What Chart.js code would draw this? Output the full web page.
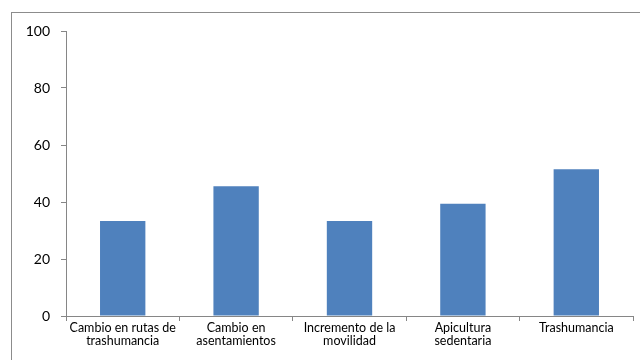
<!DOCTYPE html>
<html>
<head>
<meta charset="utf-8">
<script src="https://cdn.jsdelivr.net/npm/chart.js@4"></script>
<style>
  html, body { margin: 0; padding: 0; background: #fff; width: 640px; height: 360px; overflow: hidden; }
  #frame { position: absolute; left: 11px; top: 12px; width: 640px; height: 400px; border: 1px solid #8c8c8c; }
  #wrap { position: absolute; left: 0; top: 0; width: 640px; height: 360px; }
</style>
</head>
<body>
<div id="frame"></div>
<div id="wrap"><canvas id="chart"></canvas></div>
<script>
// Categories (two-line labels as in the original) and values
const categories = [
  ['Cambio en rutas de', 'trashumancia'],
  ['Cambio en', 'asentamientos'],
  ['Incremento de la', 'movilidad'],
  ['Apicultura', 'sedentaria'],
  ['Trashumancia']
];
const values = [33.3, 45.5, 33.3, 39.4, 51.5];
const yTicks = [0, 20, 40, 60, 80, 100];

const axisColor = '#868686';
const font = 'Lato, "Open Sans", sans-serif';

const ctx = document.getElementById('chart').getContext('2d');
new Chart(ctx, {
  type: 'bar',
  data: {
    labels: categories,
    datasets: [{
      data: values,
      backgroundColor: '#4f81bd',
      borderWidth: 0,
      barPercentage: 1,
      categoryPercentage: 0.4
    }]
  },
  options: {
    responsive: true,
    maintainAspectRatio: false,
    animation: false,
    layout: { padding: { left: 0, right: 7, top: 31, bottom: 0 } },
    plugins: { legend: { display: false }, tooltip: { enabled: false } },
    scales: {
      x: {
        offset: true,
        grid: { offset: true, drawOnChartArea: false, color: axisColor, tickLength: 5 },
        border: { color: axisColor },
        ticks: { color: '#000', font: { family: font, size: 12.5, lineHeight: 1.05 }, padding: 0, maxRotation: 0, autoSkip: false },
        afterFit: s => { s.height = 44; }
      },
      y: {
        min: 0,
        max: 100,
        afterBuildTicks: s => { s.ticks = yTicks.map(v => ({ value: v })); },
        grid: { drawOnChartArea: false, color: axisColor, tickLength: 5 },
        border: { color: axisColor },
        ticks: { color: '#000', font: { family: font, size: 14 }, padding: 11 },
        afterFit: s => { s.width = 66; }
      }
    }
  }
});
</script>
</body>
</html>
